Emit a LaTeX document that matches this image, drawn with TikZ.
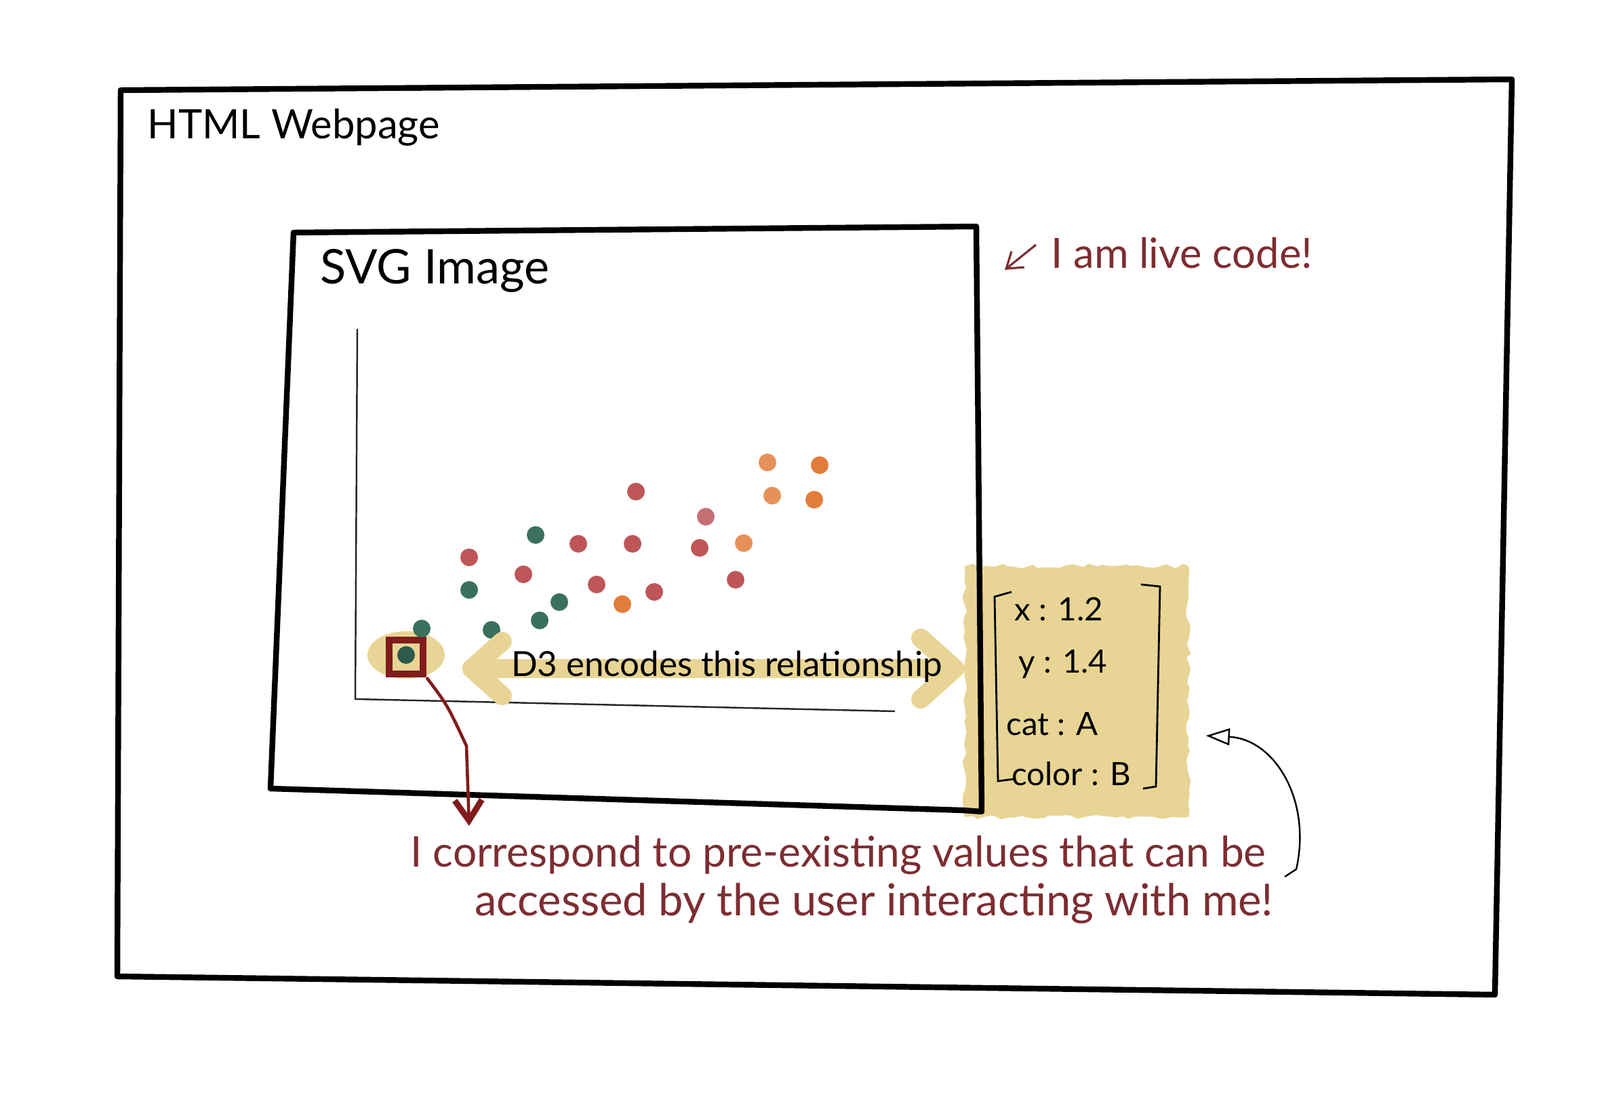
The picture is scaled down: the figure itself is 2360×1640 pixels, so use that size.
\documentclass[tikz,border=0pt]{standalone}
\usepackage{fontspec}
\setmainfont{Lato}
\usepackage{tikz}
\usetikzlibrary{arrows, arrows.meta, decorations.pathmorphing, shapes.geometric, positioning}
\definecolor{tan}{RGB}{232,213,149}
\definecolor{ink}{RGB}{125,45,50}
\definecolor{dotgreen}{RGB}{58,112,94}
\definecolor{dotred}{RGB}{190,86,88}
\definecolor{dotpink}{RGB}{198,112,116}
\definecolor{dotorange}{RGB}{226,124,58}
\definecolor{dotpeach}{RGB}{230,145,90}
\definecolor{pickred}{RGB}{128,28,28}
\tikzstyle{frame} = [draw=black, line width=2.4pt, line join=round]
\tikzstyle{dot} = [circle, inner sep=0pt, minimum size=0.26cm]
\tikzstyle{hand} = [font=\fontsize{17}{20}\selectfont]
\tikzstyle{field} = [font=\fontsize{13.5}{16}\selectfont]
\tikzstyle{note} = [hand, text=ink, anchor=west]
\tikzstyle{databox} = [fill=tan, minimum width=3.3cm, minimum height=3.7cm, decorate, decoration={random steps, segment length=3pt, amplitude=1pt}]
\tikzstyle{arrow} = [-{Straight Barb[length=0.22cm,width=0.3cm]}]

\begin{document}
\begin{tikzpicture}[x=0.01cm, y=-0.01cm]
    \useasboundingbox (0,0) rectangle (2360,1640);

    % data record behind the svg frame
    \node[databox] (data) at (1588,1020) {};
    \draw[line width=0.8pt] (1492,873) -- (1467,880) -- (1472,1152) -- (1495,1149);
    \draw[line width=0.8pt] (1683,862) -- (1711,865) -- (1705,1160) -- (1686,1163);
    \node[field] (xval) at (1562,898) {x : 1.2};
    \node[field] (yval) at (1568,980) {y : 1.4};
    \node[field] (catval) at (1552,1068) {cat : A};
    \node[field] (colval) at (1580,1141) {color : B};

    % frames
    \draw[frame] (178,133) -- (2230,117) -- (2205,1467) -- (173,1440) -- cycle;
    \draw[frame] (433,343) -- (1440,334) -- (1448,1197) -- (1420,1195) -- (399,1163) -- cycle;
    \node[hand, anchor=west] (html) at (205,188) {HTML Webpage};
    \node[hand, anchor=west, font=\fontsize{20}{23}\selectfont] (svg) at (460,399) {SVG Image};

    % axes
    \draw[line width=0.7pt, black!85] (527,485) -- (524,1031) -- (1320,1049);

    % highlighted point
    \node[ellipse, fill=tan, minimum width=1.14cm, minimum height=0.7cm] (hl) at (599,966) {};
    \node[dot, fill=dotgreen!80!black] (g0) at (599,966) {};
    \node[draw=pickred, line width=3pt, minimum size=0.5cm] (pick) at (599,969) {};

    % scatter
    \foreach \x/\y [count=\i] in {790/789, 692/870, 825/888, 796/915, 622/927, 725/929}
      \node[dot, fill=dotgreen] (g\i) at (\x,\y) {};
    \foreach \x/\y [count=\i] in {938/725, 692/822, 853/802, 933/802, 772/847, 880/862, 965/873, 1032/808, 1085/855}
      \node[dot, fill=dotred] (r\i) at (\x,\y) {};
    \node[dot, fill=dotpink] (p1) at (1041,762) {};
    \foreach \x/\y [count=\i] in {1132/682, 1139/731, 1097/801}
      \node[dot, fill=dotpeach] (o\i) at (\x,\y) {};
    \foreach \x/\y [count=\i] in {1209/686, 1201/737, 918/891}
      \node[dot, fill=dotorange] (q\i) at (\x,\y) {};

    % encoding arrow
    \draw[tan, line width=8pt, {Straight Barb[round,length=0.45cm,width=0.8cm]}-{Straight Barb[round,length=0.5cm,width=0.9cm]}]
      ([xshift=0.25cm,yshift=-0.2cm]hl.east) -- ([yshift=-0.2cm]hl.east -| data.west);
    \node[hand, font=\fontsize{14.5}{17}\selectfont] (rel) at (1072,983) {D3 encodes this relationship};

    % notes
    \node[note, font=\fontsize{17.5}{20}\selectfont] (live) at (1538,373) {I am live code!};
    \coordinate (livetip) at (1482,398);
    \draw[ink, line width=0.9pt, arrow] ([xshift=-0.1cm,yshift=0.12cm]live.west) -- (livetip);

    \node[note, font=\fontsize{17.7}{20}\selectfont] (note1) at (593,1261) {I correspond to pre-existing values that can be};
    \node[note, font=\fontsize{18.5}{21}\selectfont] (note2) at (688,1332) {accessed by the user interacting with me!};
    \coordinate (notetip) at (692,1218);
    \draw[pickred, line width=1.3pt, -{Straight Barb[length=0.3cm,width=0.4cm,line width=2.5pt]}]
      (pick.south east) .. controls (660,1040) .. (688,1100) -- (notetip);

    \coordinate (hook) at (1895,1293);
    \draw[line width=0.7pt, -{Triangle[open,length=0.35cm,width=0.25cm]}]
      (hook) -- (1912,1282) .. controls (1935,1180) and (1880,1090) .. ([xshift=0.25cm,yshift=-0.65cm]data.east);
\end{tikzpicture}
\end{document}
